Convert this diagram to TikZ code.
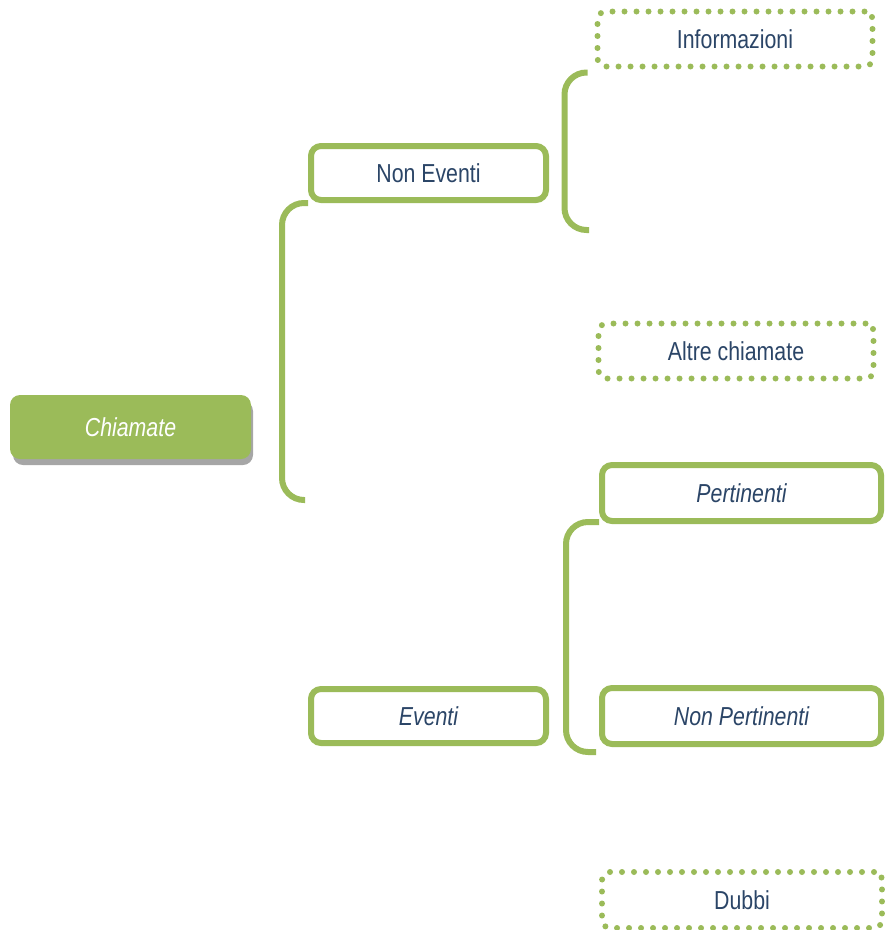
\documentclass[tikz,border=0pt]{standalone}
\usepackage{fontspec}
\setmainfont{Liberation Sans}[FakeStretch=0.82]
\usetikzlibrary{positioning, shapes}
\definecolor{leaf}{HTML}{9BBB59}
\definecolor{ink}{HTML}{2B4567}

\begin{document}
\begin{tikzpicture}[x=1pt, y=-1pt, font=\fontsize{26}{30}\selectfont]

		\tikzstyle{root}=[rectangle, rounded corners=10pt, fill=leaf, text=white, inner sep=0pt, minimum width=241pt, minimum height=64pt]
		\tikzstyle{group}=[rectangle, rounded corners=10pt, draw=leaf, line width=6pt, fill=white, text=ink, inner sep=0pt, minimum width=235pt, minimum height=54pt]
		\tikzstyle{sub}=[group, minimum width=279pt, minimum height=56pt]
		\tikzstyle{open}=[rectangle, rounded corners=8pt, draw=leaf, line width=6pt, line cap=round, dash pattern=on 0pt off 12pt, text=ink, inner sep=0pt, minimum width=275pt, minimum height=55pt]
		\tikzstyle{bracket}=[draw=leaf, line width=6pt, rounded corners=22pt]

		\useasboundingbox (0,0) rectangle (885,930);

		% root with its shadow
		\fill[black!35, rounded corners=10pt] (13,401) rectangle (253,465);
		\node[root] (chiamate) at (130.5,427) {\itshape Chiamate};

		\node[group] (nonev) at (428.5,173) {Non Eventi};
		\node[group] (ev) at (428.5,716) {\itshape Eventi};

		\node[open] (info) at (735,39) {Informazioni};
		\node[open] (altre) at (736,351) {Altre chiamate};
		\node[sub] (pert) at (741.5,493) {\itshape Pertinenti};
		\node[sub] (nonpert) at (741.5,716) {\itshape Non Pertinenti};
		\node[open, minimum width=280pt, minimum height=56pt] (dubbi) at (742,900) {Dubbi};

		\coordinate (b1) at (305,500);
		\coordinate (b2) at (589,230);
		\coordinate (b3) at (596,752);

		% brackets
		\draw[bracket] (nonev.south west) -- ++(-26,0) |- (b1);
		\draw[bracket] (info.south west) ++(-7,3) -- ++(-23,0) |- (b2);
		\draw[bracket] (pert.south west) ++(0,-2) -- ++(-33,0) |- (b3);
\end{tikzpicture}
\end{document}
